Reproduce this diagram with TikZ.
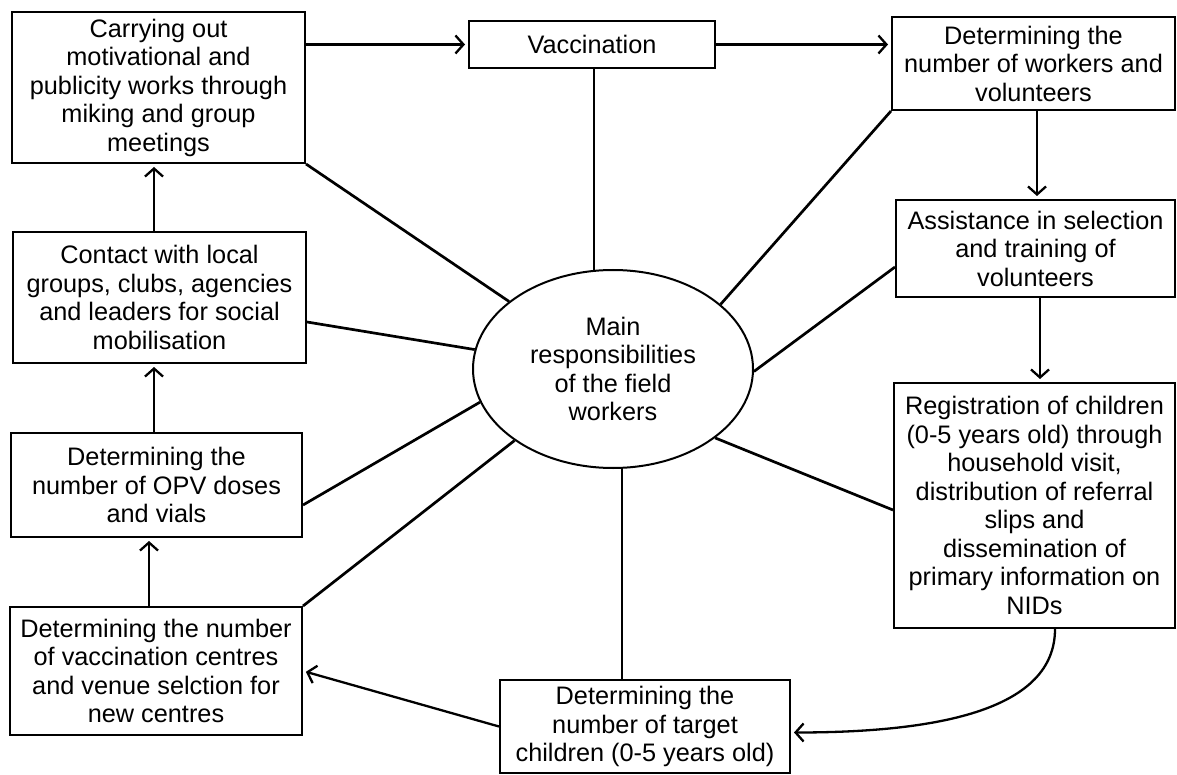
\documentclass[tikz,border=0pt]{standalone}
\usepackage{fontspec}
\setmainfont{Liberation Sans}
\usetikzlibrary{arrows.meta,shapes.geometric,calc}
\newcommand{\boxfont}{\fontsize{25.3}{28.5}\selectfont}
\tikzset{
  blk/.style={draw, line width=2pt, inner sep=0pt, align=center, font=\boxfont},
  link/.style={line width=2.7pt},
  arr/.style={line width=2.3pt, -{Straight Barb[length=8pt,width=18pt]}, shorten >=3pt}
}
\begin{document}
\begin{tikzpicture}[x=1pt,y=-1pt]
\useasboundingbox (0,0) rectangle (1177,775);
\node[ellipse, draw, line width=2pt, minimum width=280pt, minimum height=198pt, inner sep=0pt, align=center, font=\boxfont] (main) at (613,369) {Main\\responsibilities\\of the field\\workers};
\node[blk, minimum width=293pt, minimum height=151pt] (box1) at (158.5,87.5) {Carrying out\\motivational and\\publicity works through\\miking and group\\meetings};
\node[blk, minimum width=246pt, minimum height=47pt] (vacc) at (592,44.5) {Vaccination};
\node[blk, minimum width=283pt, minimum height=93pt] (workers) at (1033.5,63.5) {Determining the\\number of workers and\\volunteers};
\node[blk, minimum width=279pt, minimum height=97pt] (assist) at (1035.5,248.5) {Assistance in selection\\and training of\\volunteers};
\node[blk, minimum width=281pt, minimum height=245pt] (reg) at (1034.5,505.5) {Registration of children\\(0-5 years old) through\\household visit,\\distribution of referral\\slips and\\dissemination of\\primary information on\\NIDs};
\node[blk, minimum width=290pt, minimum height=93pt] (target) at (645,726.5) {Determining the\\number of target\\children (0-5 years old)};
\node[blk, minimum width=292pt, minimum height=128pt] (centres) at (156,671) {Determining the number\\of vaccination centres\\and venue selction for\\new centres};
\node[blk, minimum width=291pt, minimum height=104pt] (opv) at (156.5,485) {Determining the\\number of OPV doses\\and vials};
\node[blk, minimum width=293pt, minimum height=131pt] (contact) at (159.5,297.5) {Contact with local\\groups, clubs, agencies\\and leaders for social\\mobilisation};
% spokes
\draw[link] (box1.south east) -- (main.147);
\draw[link] ([yshift=-24.5pt]contact.east) -- (main.172);
\draw[link] ([yshift=-20pt]opv.east) -- (main.194);
\draw[link] (centres.north east) -- (main.216);
\draw[link] (workers.south west) -- (main.31);
\draw[link] ([yshift=-18.5pt]assist.west) -- (main.-1);
\draw[link] ([yshift=-4.5pt]reg.west) -- (main.-34);
\draw[line width=2pt] (main.101) -- (main.101 |- vacc.south);
\draw[line width=2pt] (main.-85) -- (main.-85 |- target.north);
% arrows
\draw[arr] (box1.east |- vacc.west) -- (vacc.west);
\draw[arr] (vacc.east) -- (vacc.east -| workers.west);
\draw[arr] ([xshift=3.5pt]workers.south) -- ([xshift=3.5pt]workers.south |- assist.north);
\draw[arr] ([xshift=4.5pt]assist.south) -- ([xshift=4.5pt]assist.south |- reg.north);
\draw[arr] ([xshift=20.5pt]reg.south) .. controls +(0,80) and +(150,0) .. ([yshift=-6pt]target.east);
\draw[arr] (target.west) -- (centres.east);
\draw[arr] ([xshift=-7pt]centres.north) -- ([xshift=-7pt]centres.north |- opv.south);
\draw[arr] ([xshift=-2.5pt]opv.north) -- ([xshift=-2.5pt]opv.north |- contact.south);
\draw[arr] ([xshift=-5.5pt]contact.north) -- ([xshift=-5.5pt]contact.north |- box1.south);
\end{tikzpicture}
\end{document}
